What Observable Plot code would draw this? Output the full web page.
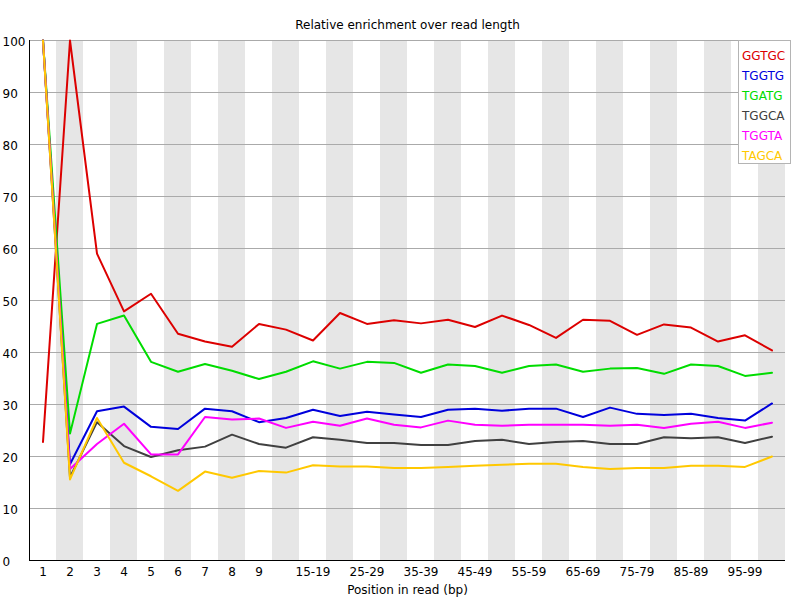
<!DOCTYPE html>
<html>
<head>
<meta charset="utf-8">
<script src="https://cdn.jsdelivr.net/npm/d3@7"></script>
<script src="https://cdn.jsdelivr.net/npm/@observablehq/plot@0.6"></script>
<style>
  body { margin: 0; background: #fff; }
  #wrap { position: relative; width: 800px; height: 600px; font-family: "DejaVu Sans", sans-serif; }
  #legend { position: absolute; left: 738px; top: 40px; width: 51px; height: 122px; background: #fff; border: 1px solid #b4b4b4; font-size: 12px; }
  #legend div { position: absolute; left: 3px; line-height: 14px; }
</style>
</head>
<body>
<div id="wrap"></div>
<script>
const categories = ["1","2","3","4","5","6","7","8","9","10-14","15-19","20-24","25-29","30-34","35-39","40-44","45-49","50-54","55-59","60-64","65-69","70-74","75-79","80-84","85-89","90-94","95-99","100-101"];
const shownLabels = ["1","2","3","4","5","6","7","8","9","15-19","25-29","35-39","45-49","55-59","65-69","75-79","85-89","95-99"];
const yTicks = [0,10,20,30,40,50,60,70,80,90,100];

const kmers = ["GGTGC","TGGTG","TGATG","TGGCA","TGGTA","TAGCA"];
const colors = ["#dc0000","#0000dc","#00dc00","#404040","#ff00ff","#ffc800"];

const GGTGC = [22.8,100,59.0,47.9,51.3,43.6,42.1,41.1,45.5,44.4,42.3,47.6,45.5,46.2,45.6,46.3,44.9,47.1,45.3,42.8,46.3,46.1,43.4,45.4,44.8,42.1,43.3,40.4];
const TGGTG = [100,18.5,28.7,29.6,25.7,25.3,29.2,28.7,26.6,27.4,29.0,27.8,28.6,28.1,27.6,29.0,29.2,28.8,29.2,29.2,27.6,29.4,28.2,28.0,28.2,27.4,26.9,30.2];
const TGATG = [100,24.4,45.5,47.1,38.2,36.3,37.8,36.5,34.9,36.3,38.3,36.9,38.2,38.0,36.1,37.7,37.4,36.1,37.4,37.7,36.3,36.9,37.0,35.9,37.7,37.4,35.5,36.1];
const TGGCA = [100,16.0,26.6,22.0,19.9,21.2,21.9,24.2,22.4,21.7,23.7,23.2,22.6,22.6,22.2,22.2,23.0,23.2,22.4,22.8,23.0,22.4,22.4,23.7,23.5,23.7,22.6,23.8];
const TGGTA = [100,17.6,22.4,26.3,20.4,20.4,27.6,27.1,27.3,25.5,26.7,25.9,27.3,26.1,25.6,26.9,26.1,25.9,26.1,26.1,26.1,25.9,26.1,25.5,26.3,26.7,25.5,26.5];
const TAGCA = [100,15.6,27.4,18.8,16.2,13.4,17.1,15.9,17.2,16.9,18.3,18.1,18.1,17.8,17.8,18.0,18.2,18.4,18.6,18.6,18.0,17.6,17.8,17.8,18.2,18.2,18.0,20.0];

const seriesValues = [GGTGC, TGGTG, TGATG, TGGCA, TGGTA, TAGCA];
const rows = [];
kmers.forEach((k, s) => seriesValues[s].forEach((v, i) => rows.push({kmer: k, pos: categories[i], value: v})));
const stripes = categories.filter((d, i) => i % 2 === 1);

const font = "DejaVu Sans, sans-serif";
const chart = Plot.plot({
  width: 800,
  height: 600,
  marginLeft: 29,
  marginRight: 15,
  marginTop: 40,
  marginBottom: 40,
  style: {fontFamily: font, fontSize: "12px", background: "#fff", color: "#000"},
  x: {domain: categories, type: "band", padding: 0, label: null},
  y: {domain: [0, 100], label: null},
  color: {domain: kmers, range: colors},
  marks: [
    Plot.barY(stripes, {x: d => d, y1: 0, y2: 100, fill: "#e6e6e6"}),
    Plot.ruleY(yTicks, {stroke: "#aaaaaa", strokeWidth: 1}),
    Plot.ruleY([0], {stroke: "#000"}),
    Plot.frame({anchor: "left", stroke: "#000"}),
    Plot.axisY({ticks: yTicks, tickSize: 0, tickPadding: 3, textAnchor: "start", dx: -24, dy: 2, fontSize: 12, label: null}),
    Plot.axisX({ticks: shownLabels, tickSize: 0, tickPadding: 7, fontSize: 12, label: null}),
    Plot.line(rows, {x: "pos", y: "value", z: "kmer", stroke: "kmer", strokeWidth: 2}),
    Plot.text(["Relative enrichment over read length"], {frameAnchor: "top", lineAnchor: "middle", dy: -15, fontSize: 12, fill: "#000"}),
    Plot.text(["Position in read (bp)"], {frameAnchor: "bottom", lineAnchor: "middle", dy: 30, fontSize: 12, fill: "#000"})
  ]
});
const wrap = document.getElementById("wrap");
wrap.appendChild(chart);
const legend = document.createElement("div");
legend.id = "legend";
kmers.forEach((k, i) => {
  const e = document.createElement("div");
  e.textContent = k;
  e.style.color = colors[i];
  e.style.top = (8 + i * 20) + "px";
  legend.appendChild(e);
});
wrap.appendChild(legend);
</script>
</body>
</html>
